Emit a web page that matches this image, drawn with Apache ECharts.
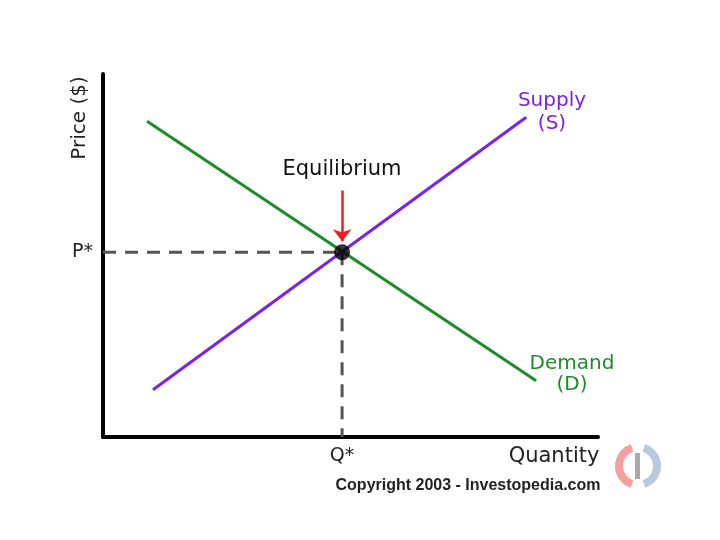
<!DOCTYPE html>
<html><head><meta charset="utf-8">
<script src="https://cdn.jsdelivr.net/npm/echarts@6/dist/echarts.min.js"></script>
<style>html,body{margin:0;padding:0;background:#fff}#c{width:720px;height:540px}</style>
</head><body><div id="c"></div>
<script>
// Data (abstract units 0..100)
const supplyPoints = [[10.1, 13.0], [85.5, 88.1]];
const demandPoints = [[8.9, 87.0], [87.5, 15.5]];
const equilibrium = [48.3, 50.9];
const priceTick = ['P*'];
const quantityTick = ['Q*'];
const arrowFrom = [48.3, 67.9];
const arrowTo = [48.3, 53.9];

const chart = echarts.init(document.getElementById('c'));
const font = 'DejaVu Sans, Verdana, sans-serif';
chart.setOption({
  animation: false,
  backgroundColor: '#fff',
  grid: {left: 103, right: 122, top: 74, bottom: 103},
  xAxis: {
    type: 'value', min: 0, max: 100,
    axisLine: {show: true, onZero: false, lineStyle: {color: '#000', width: 4}},
    axisTick: {show: false},
    splitLine: {show: false},
    axisLabel: {customValues: [equilibrium[0]], formatter: () => quantityTick[0], color: '#222', fontSize: 19, fontFamily: font, margin: 10}
  },
  yAxis: {
    type: 'value', min: 0, max: 100,
    axisLine: {show: true, onZero: false, lineStyle: {color: '#000', width: 4}},
    axisTick: {show: false},
    splitLine: {show: false},
    axisLabel: {customValues: [equilibrium[1]], formatter: () => priceTick[0], color: '#222', fontSize: 19, fontFamily: font, margin: 10}
  },
  series: [
    {type: 'line', data: [[0, equilibrium[1]], equilibrium], symbol: 'none', silent: true,
     lineStyle: {color: '#555', width: 3, type: [13, 9]}, z: 1},
    {type: 'line', data: [equilibrium, [equilibrium[0], 0]], symbol: 'none', silent: true,
     lineStyle: {color: '#555', width: 3, type: [13, 9]}, z: 1},
    {type: 'line', name: 'Demand', data: demandPoints, symbol: 'none',
     lineStyle: {color: '#1e8a2a', width: 3}, z: 2},
    {type: 'line', name: 'Supply', data: supplyPoints, symbol: 'none',
     lineStyle: {color: '#7a22e6', width: 3}, z: 3,
     markLine: {silent: true, symbol: ['none', 'arrow'], symbolSize: [14, 12], label: {show: false},
       lineStyle: {color: '#e82020', width: 2.5, type: 'solid'},
       data: [[{coord: arrowFrom}, {coord: arrowTo}]]}},
    {type: 'scatter', data: [equilibrium], symbolSize: 16, itemStyle: {color: '#000'}, z: 5}
  ],
  graphic: [
    {type: 'text', x: 80, y: 118, rotation: Math.PI / 2, style: {text: 'Price ($)', fill: '#222', font: '20px ' + font, align: 'center', verticalAlign: 'middle'}},
    {type: 'text', x: 554, y: 457, style: {text: 'Quantity', fill: '#222', font: '21px ' + font, align: 'center', verticalAlign: 'middle'}},
    {type: 'text', x: 468, y: 486, style: {text: 'Copyright 2003 - Investopedia.com', fill: '#222', font: 'bold 16px Liberation Sans, Arial, sans-serif', align: 'center', verticalAlign: 'middle'}},
    {type: 'text', x: 342, y: 170, style: {text: 'Equilibrium', fill: '#111', font: '21px ' + font, align: 'center', verticalAlign: 'middle'}},
    {type: 'text', x: 552, y: 101, style: {text: 'Supply', fill: '#7a22e6', font: '20px ' + font, align: 'center', verticalAlign: 'middle'}},
    {type: 'text', x: 552, y: 124, style: {text: '(S)', fill: '#7a22e6', font: '20px ' + font, align: 'center', verticalAlign: 'middle'}},
    {type: 'text', x: 572, y: 364, style: {text: 'Demand', fill: '#1e8a2a', font: '20px ' + font, align: 'center', verticalAlign: 'middle'}},
    {type: 'text', x: 572, y: 385, style: {text: '(D)', fill: '#1e8a2a', font: '20px ' + font, align: 'center', verticalAlign: 'middle'}},
    {type: 'arc', shape: {cx: 638, cy: 466, r: 19, startAngle: Math.PI * 0.6, endAngle: Math.PI * 1.4}, style: {stroke: '#f4a0a0', lineWidth: 8, fill: null}},
    {type: 'arc', shape: {cx: 638, cy: 466, r: 19, startAngle: -Math.PI * 0.4, endAngle: Math.PI * 0.4}, style: {stroke: '#b8c8e0', lineWidth: 8, fill: null}},
    {type: 'rect', shape: {x: 635, y: 453, width: 5, height: 26}, style: {fill: '#aaaaaa'}}
  ]
});
</script></body></html>
